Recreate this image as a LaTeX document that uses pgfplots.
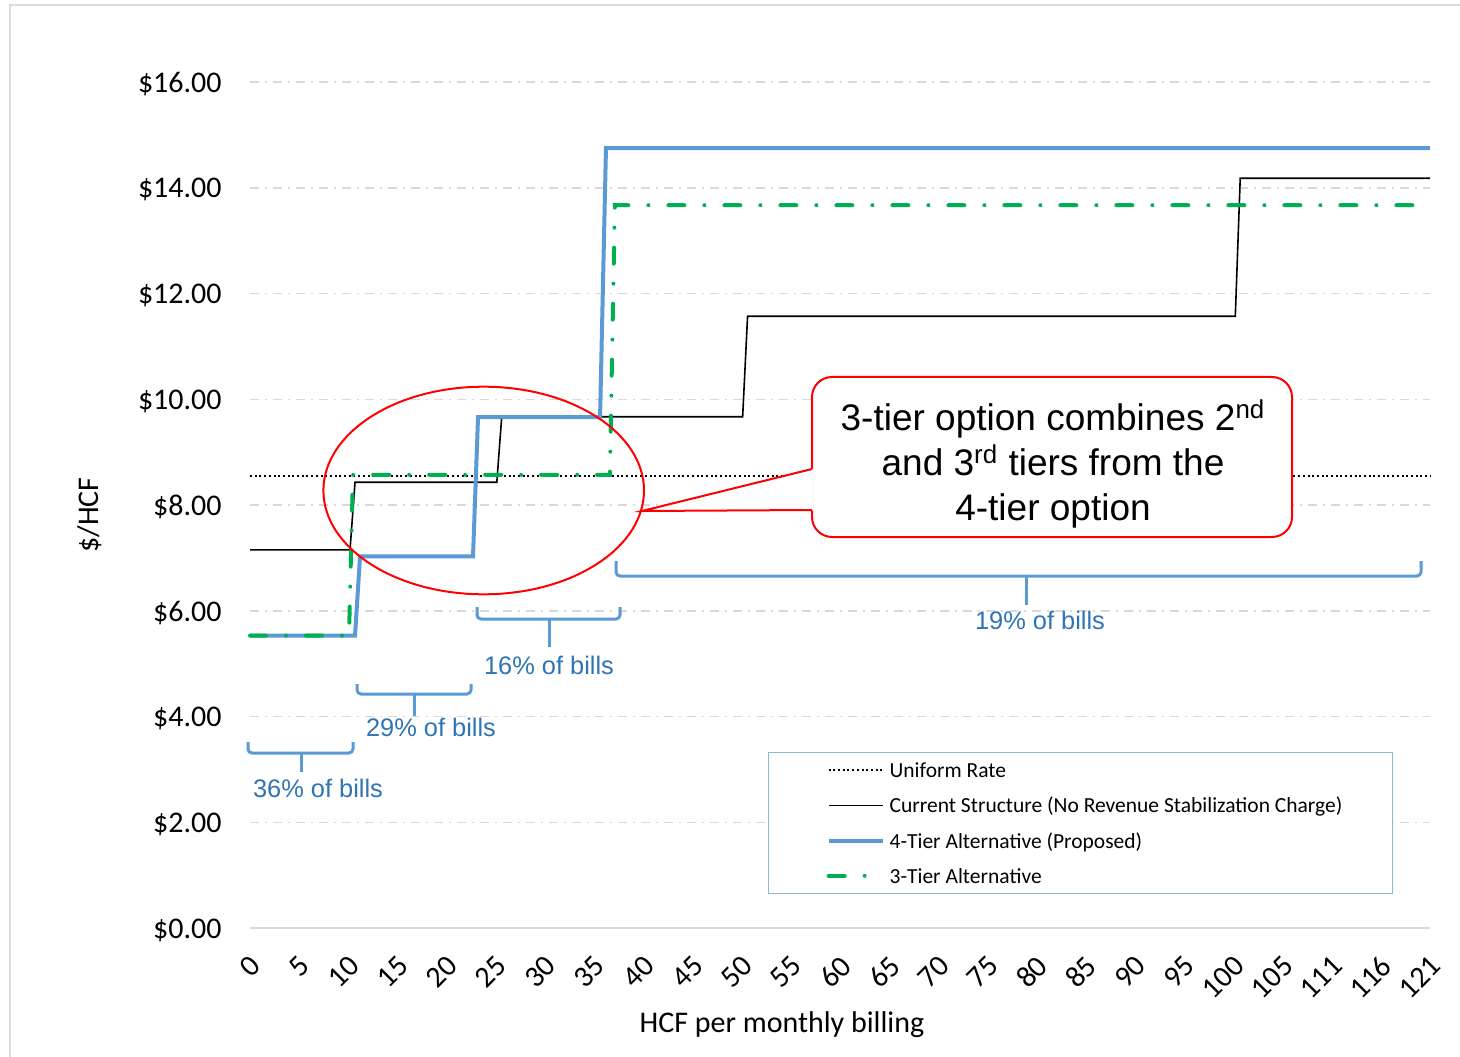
\documentclass[border=0pt]{standalone}
\usepackage{pgfplots}
\pgfplotsset{compat=1.18}
\usepackage{fontspec}
\setmainfont{Carlito}
\newfontfamily\arial{Liberation Sans}
\definecolor{tierblue}{RGB}{91,155,213}
\definecolor{tiergreen}{RGB}{0,176,80}
\definecolor{annblue}{RGB}{46,117,182}
\definecolor{gridgray}{RGB}{217,217,217}
\definecolor{legborder}{RGB}{143,180,227}
\definecolor{framegray}{RGB}{220,220,220}
\begin{document}
\begin{tikzpicture}
\useasboundingbox (0,0) rectangle (730pt,528pt);
\fill[white] (0,0) rectangle (730pt,528pt);
\draw[framegray, line width=1pt] (5pt,-5pt) -- (5pt,525.5pt) -- (735pt,525.5pt);
\begin{axis}[
  at={(125pt,64pt)}, anchor=south west,
  scale only axis, width=590pt, height=423pt,
  xmin=0, xmax=120, ymin=0, ymax=16,
  clip=false,
  axis lines*=left,
  x axis line style={gridgray, line width=1pt, -},
  y axis line style={draw=none},
  tick style={draw=none},
  xtick={0,5,...,120},
  xticklabels={0,5,10,15,20,25,30,35,40,45,50,55,60,65,70,75,80,85,90,95,100,105,111,116,121},
  ytick={0,2,...,16},
  yticklabels={\$0.00,\$2.00,\$4.00,\$6.00,\$8.00,\$10.00,\$12.00,\$14.00,\$16.00},
  ymajorgrids,
  major grid style={gridgray, line width=0.75pt, dash pattern=on 4.5pt off 3pt on 1pt off 3pt},
  ticklabel style={font=\fontsize{15}{18}\selectfont},
  yticklabel style={inner sep=0pt, anchor=east, xshift=-14pt, yshift=-1pt},
  xticklabel style={inner sep=0pt, xshift=3pt, yshift=-16.5pt, rotate=45, anchor=east},
  xlabel={HCF per monthly billing},
  ylabel={\$/HCF},
  label style={font=\fontsize{15}{18}\selectfont},
  xlabel style={at={(axis description cs:0.4508,-0.1147)}, anchor=center},
  ylabel style={at={(axis description cs:-0.1356,0.488)}, anchor=center},
  legend cell align=left,
  legend style={at={(axis cs:52.68,3.329)}, anchor=north west, draw=legborder, line width=0.6pt,
    inner xsep=0pt, inner ysep=0pt, row sep=0pt,
    font=\fontsize{10.75}{13}\selectfont,
    nodes={inner sep=0pt, text height=12.6pt, text depth=5pt}},
  legend image code/.code={\path[draw=none] (-30pt,0pt) -- (30.5pt,0pt); \draw[#1] (0pt,0pt) -- (27pt,0pt);},
]
\addplot[black, line width=1pt, dash pattern=on 1pt off 1.35pt] coordinates {(0,8.55) (120,8.55)};
\addlegendentry{\makebox[251.5pt][l]{Uniform Rate}}
\addplot[black, line width=0.8pt] coordinates {(0,7.15) (10.17,7.15) (10.68,8.43) (25.1,8.43) (25.6,9.67) (50.1,9.67) (50.6,11.57) (100.2,11.57) (100.7,14.18) (120,14.18)};
\addlegendentry{Current Structure (No Revenue Stabilization Charge)}
\addplot[tierblue, line width=2pt] coordinates {(0,5.53) (10.68,5.53) (11.19,7.03) (22.68,7.03) (23.19,9.66) (35.6,9.66) (36.2,14.75) (120,14.75)};
\addlegendentry{4-Tier Alternative (Proposed)}
\addplot[tiergreen, line width=2pt, line cap=round, dash pattern=on 8pt off 10pt on 0pt off 10pt] coordinates {(0,5.53) (10.07,5.53) (10.47,8.57) (36.6,8.57) (37.1,13.67) (120,13.67)};
\addlegendentry{3-Tier Alternative}
\end{axis}
\begin{scope}[x=0.5pt, y=-0.5pt, yshift=528pt]
  % braces
  \begin{scope}[tierblue, line width=1.5pt, rounded corners=2pt]
    \draw (248,742) -- (248,753) -- (353,753) -- (353,742);
    \draw (301,753) -- (301,772);
    \draw (357,684) -- (357,694) -- (471,694) -- (471,684);
    \draw (414,694) -- (414,716);
    \draw (477,607) -- (477,619) -- (620,619) -- (620,607);
    \draw (549,619) -- (549,647);
    \draw (616,561) -- (616,576) -- (1421,576) -- (1421,561);
    \draw (1026,576) -- (1026,605);
  \end{scope}
  \begin{scope}[every node/.style={text=annblue, font=\arial\fontsize{12.7}{15}\selectfont}]
    \node at (318,788) {36\% of bills};
    \node at (431,727) {29\% of bills};
    \node at (549,665) {16\% of bills};
    \node at (1040,620) {19\% of bills};
  \end{scope}
  % ellipse
  \draw[red, line width=1pt] (483.7,490.5) ellipse [x radius=80.15pt, y radius=51.9pt];
  % callout
  \draw[red, line width=1pt, fill=white, rounded corners=10pt] (812,377) rectangle (1292,537);
  \fill[white] (642,511) -- (813.6,468.5) -- (813.6,510.5) -- cycle;
  \draw[red, line width=1pt] (812,469) -- (642,511) -- (812,510);
  \node[align=center, font=\arial\fontsize{18.5}{22.5}\selectfont] at (1053,464)
    {3-tier option combines 2\textsuperscript{nd}\\and 3\textsuperscript{rd} tiers from the\\4-tier option};
\end{scope}
\end{tikzpicture}
\end{document}
